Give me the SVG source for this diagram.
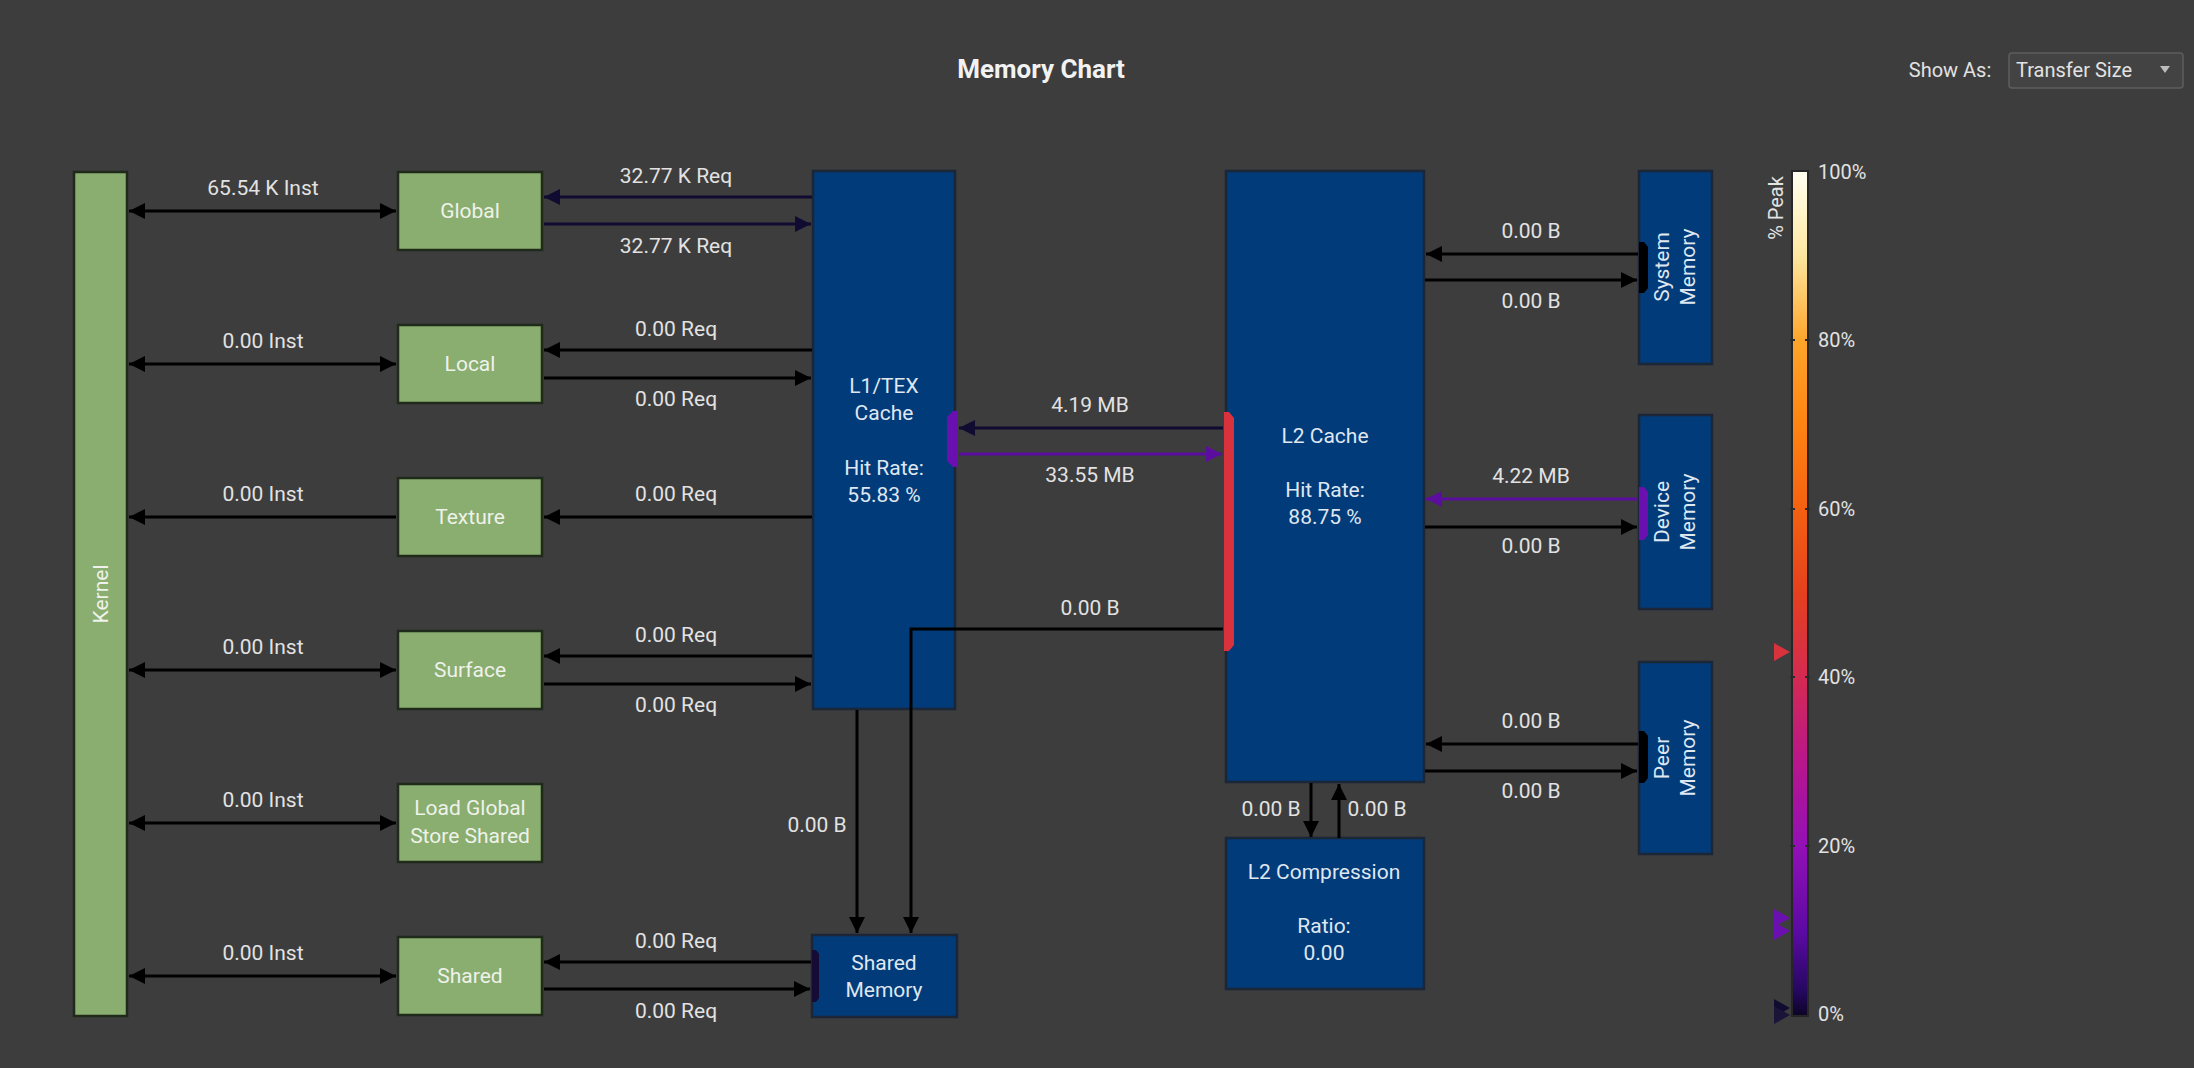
<svg xmlns="http://www.w3.org/2000/svg" width="2194" height="1068" viewBox="0 0 2194 1068">
<defs>
<style>
.t{font-family:Roboto,"Liberation Sans",sans-serif;font-size:21px;fill:#e2e2e2;text-anchor:middle}
.gbox{fill:#8aad70;stroke:#1f2a1b;stroke-width:2.5}
.gt{font-family:Roboto,"Liberation Sans",sans-serif;font-size:21px;fill:#eef2ea;text-anchor:middle}
.bbox{fill:#023b7a;stroke:#1b2636;stroke-width:2.5}
.bt{font-family:Roboto,"Liberation Sans",sans-serif;font-size:21px;fill:#dfe7f1;text-anchor:middle}
.k{stroke:#000;stroke-width:3;fill:none}
.n{stroke:#100b30;stroke-width:3;fill:none}
.p{stroke:#5b0e9e;stroke-width:3;fill:none}
</style>
<marker id="ak" viewBox="0 0 16 16" refX="16" refY="8" markerWidth="16" markerHeight="16" markerUnits="userSpaceOnUse" orient="auto-start-reverse"><path d="M0,0L16,8L0,16z" fill="#000"/></marker>
<marker id="an" viewBox="0 0 16 16" refX="16" refY="8" markerWidth="16" markerHeight="16" markerUnits="userSpaceOnUse" orient="auto-start-reverse"><path d="M0,0L16,8L0,16z" fill="#100b30"/></marker>
<marker id="ap" viewBox="0 0 16 16" refX="16" refY="8" markerWidth="16" markerHeight="16" markerUnits="userSpaceOnUse" orient="auto-start-reverse"><path d="M0,0L16,8L0,16z" fill="#5b0e9e"/></marker>
<linearGradient id="cb" x1="0" y1="0" x2="0" y2="1">
<stop offset="0" stop-color="#fffff2"/>
<stop offset="0.1" stop-color="#fde7a0"/>
<stop offset="0.2" stop-color="#ffa52a"/>
<stop offset="0.3" stop-color="#ff8412"/>
<stop offset="0.4" stop-color="#f46110"/>
<stop offset="0.5" stop-color="#e4401e"/>
<stop offset="0.6" stop-color="#d42a52"/>
<stop offset="0.7" stop-color="#b8168c"/>
<stop offset="0.8" stop-color="#9210b6"/>
<stop offset="0.9" stop-color="#5c0aa4"/>
<stop offset="0.97" stop-color="#250860"/>
<stop offset="1" stop-color="#0c0424"/>
</linearGradient>
</defs>
<rect width="2194" height="1068" fill="#3d3d3d"/>

<text x="1041" y="78" style="font-family:Roboto,'Liberation Sans',sans-serif;font-size:26px;font-weight:bold;fill:#f2f2f2;text-anchor:middle">Memory Chart</text>
<g id="show-as">
<text x="1950" y="77" style="font-family:Roboto,'Liberation Sans',sans-serif;font-size:20px;fill:#e2e2e2;text-anchor:middle">Show As:</text>
<rect x="2009" y="53" width="174" height="35" rx="3" fill="#434343" stroke="#5e5e5e" stroke-width="1.5"/>
<text x="2016" y="77" style="font-family:Roboto,'Liberation Sans',sans-serif;font-size:20px;fill:#e2e2e2">Transfer Size</text>
<path d="M2160,66L2170,66L2165,73z" fill="#bdbdbd"/>
</g>

<g id="kernel"><rect class="gbox" x="74" y="172" width="53" height="844"/><text class="gt" transform="translate(108,594) rotate(-90)">Kernel</text></g>
<g id="global"><rect class="gbox" x="398" y="172" width="144" height="78"/><text class="gt" x="470" y="218">Global</text></g>
<g id="local"><rect class="gbox" x="398" y="325" width="144" height="78"/><text class="gt" x="470" y="371">Local</text></g>
<g id="texture"><rect class="gbox" x="398" y="478" width="144" height="78"/><text class="gt" x="470" y="524">Texture</text></g>
<g id="surface"><rect class="gbox" x="398" y="631" width="144" height="78"/><text class="gt" x="470" y="677">Surface</text></g>
<g id="load-global-store-shared"><rect class="gbox" x="398" y="784" width="144" height="78"/><text class="gt" x="470" y="815">Load Global</text><text class="gt" x="470" y="843">Store Shared</text></g>
<g id="shared"><rect class="gbox" x="398" y="937" width="144" height="78"/><text class="gt" x="470" y="983">Shared</text></g>

<g id="l1-tex-cache"><rect class="bbox" x="813" y="171" width="142" height="538"/>
<text class="bt" x="884" y="393">L1/TEX</text><text class="bt" x="884" y="420">Cache</text><text class="bt" x="884" y="475">Hit Rate:</text><text class="bt" x="884" y="502">55.83 %</text>
<path d="M957,411L957,467L953,467L947,461L947,417L953,411z" fill="#6a0fb0"/></g>
<g id="shared-memory"><rect class="bbox" x="812" y="935" width="145" height="82"/>
<text class="bt" x="884" y="970">Shared</text><text class="bt" x="884" y="997">Memory</text>
<path d="M812,950L816,950L819,954L819,998L816,1002L812,1002z" fill="#160b34"/></g>
<g id="l2-cache"><rect class="bbox" x="1226" y="171" width="198" height="611"/>
<text class="bt" x="1325" y="443">L2 Cache</text><text class="bt" x="1325" y="497">Hit Rate:</text><text class="bt" x="1325" y="524">88.75 %</text>
<path d="M1224,412L1229,412L1234,418L1234,645L1229,651L1224,651z" fill="#d8323c"/></g>
<g id="l2-compression"><rect class="bbox" x="1226" y="838" width="198" height="151"/>
<text class="bt" x="1324" y="879">L2 Compression</text><text class="bt" x="1324" y="933">Ratio:</text><text class="bt" x="1324" y="960">0.00</text></g>
<g id="system-memory"><rect class="bbox" x="1639" y="171" width="73" height="193"/>
<text class="bt" transform="translate(1675,267) rotate(-90)"><tspan x="0" y="-6">System</tspan><tspan x="0" y="20">Memory</tspan></text>
<path d="M1639,242L1644,242L1648,247L1648,288L1644,293L1639,293z" fill="#000"/></g>
<g id="device-memory"><rect class="bbox" x="1639" y="415" width="73" height="194"/>
<text class="bt" transform="translate(1675,512) rotate(-90)"><tspan x="0" y="-6">Device</tspan><tspan x="0" y="20">Memory</tspan></text>
<path d="M1639,487L1644,487L1648,492L1648,535L1644,540L1639,540z" fill="#6a0fb0"/></g>
<g id="peer-memory"><rect class="bbox" x="1639" y="662" width="73" height="192"/>
<text class="bt" transform="translate(1675,758) rotate(-90)"><tspan x="0" y="-6">Peer</tspan><tspan x="0" y="20">Memory</tspan></text>
<path d="M1639,731L1644,731L1648,736L1648,778L1644,783L1639,783z" fill="#000"/></g>

<g id="connectors">
<line class="k" x1="129" y1="211" x2="396" y2="211" marker-start="url(#ak)" marker-end="url(#ak)"/>
<line class="k" x1="129" y1="364" x2="396" y2="364" marker-start="url(#ak)" marker-end="url(#ak)"/>
<line class="k" x1="396" y1="517" x2="129" y2="517" marker-end="url(#ak)"/>
<line class="k" x1="129" y1="670" x2="396" y2="670" marker-start="url(#ak)" marker-end="url(#ak)"/>
<line class="k" x1="129" y1="823" x2="396" y2="823" marker-start="url(#ak)" marker-end="url(#ak)"/>
<line class="k" x1="129" y1="976" x2="396" y2="976" marker-start="url(#ak)" marker-end="url(#ak)"/>
<line class="n" x1="812" y1="197" x2="544" y2="197" marker-end="url(#an)"/>
<line class="n" x1="544" y1="224" x2="811" y2="224" marker-end="url(#an)"/>
<line class="k" x1="812" y1="350" x2="544" y2="350" marker-end="url(#ak)"/>
<line class="k" x1="544" y1="378" x2="811" y2="378" marker-end="url(#ak)"/>
<line class="k" x1="812" y1="517" x2="544" y2="517" marker-end="url(#ak)"/>
<line class="k" x1="812" y1="656" x2="544" y2="656" marker-end="url(#ak)"/>
<line class="k" x1="544" y1="684" x2="811" y2="684" marker-end="url(#ak)"/>
<line class="k" x1="811" y1="962" x2="544" y2="962" marker-end="url(#ak)"/>
<line class="k" x1="544" y1="989" x2="810" y2="989" marker-end="url(#ak)"/>
<line class="n" x1="1223" y1="428" x2="959" y2="428" marker-end="url(#an)"/>
<line class="p" x1="959" y1="454" x2="1222" y2="454" marker-end="url(#ap)"/>
<polyline class="k" points="1223,629 911,629 911,933" marker-end="url(#ak)"/>
<line class="k" x1="857" y1="710" x2="857" y2="933" marker-end="url(#ak)"/>
<line class="k" x1="1638" y1="254" x2="1426" y2="254" marker-end="url(#ak)"/>
<line class="k" x1="1425" y1="280" x2="1637" y2="280" marker-end="url(#ak)"/>
<line class="p" x1="1638" y1="499" x2="1426" y2="499" marker-end="url(#ap)"/>
<line class="k" x1="1425" y1="527" x2="1637" y2="527" marker-end="url(#ak)"/>
<line class="k" x1="1638" y1="744" x2="1426" y2="744" marker-end="url(#ak)"/>
<line class="k" x1="1425" y1="771" x2="1637" y2="771" marker-end="url(#ak)"/>
<line class="k" x1="1311" y1="783" x2="1311" y2="837" marker-end="url(#ak)"/>
<line class="k" x1="1339" y1="838" x2="1339" y2="784" marker-end="url(#ak)"/>
</g>

<g id="labels">
<text class="t" x="263" y="195">65.54 K Inst</text>
<text class="t" x="263" y="348">0.00 Inst</text>
<text class="t" x="263" y="501">0.00 Inst</text>
<text class="t" x="263" y="654">0.00 Inst</text>
<text class="t" x="263" y="807">0.00 Inst</text>
<text class="t" x="263" y="960">0.00 Inst</text>
<text class="t" x="676" y="183">32.77 K Req</text>
<text class="t" x="676" y="253">32.77 K Req</text>
<text class="t" x="676" y="336">0.00 Req</text>
<text class="t" x="676" y="406">0.00 Req</text>
<text class="t" x="676" y="501">0.00 Req</text>
<text class="t" x="676" y="642">0.00 Req</text>
<text class="t" x="676" y="712">0.00 Req</text>
<text class="t" x="676" y="948">0.00 Req</text>
<text class="t" x="676" y="1018">0.00 Req</text>
<text class="t" x="1090" y="412">4.19 MB</text>
<text class="t" x="1090" y="482">33.55 MB</text>
<text class="t" x="1090" y="615">0.00 B</text>
<text class="t" x="817" y="832">0.00 B</text>
<text class="t" x="1531" y="238">0.00 B</text>
<text class="t" x="1531" y="308">0.00 B</text>
<text class="t" x="1531" y="483">4.22 MB</text>
<text class="t" x="1531" y="553">0.00 B</text>
<text class="t" x="1531" y="728">0.00 B</text>
<text class="t" x="1531" y="798">0.00 B</text>
<text class="t" x="1271" y="816">0.00 B</text>
<text class="t" x="1377" y="816">0.00 B</text>
</g>

<g id="colorbar">
<rect x="1792" y="171" width="16" height="845" fill="url(#cb)" stroke="#262626" stroke-width="2"/>
<g stroke="#2a2a2a" stroke-width="2"><line x1="1790" y1="340" x2="1795" y2="340"/><line x1="1805" y1="340" x2="1810" y2="340"/><line x1="1790" y1="509" x2="1795" y2="509"/><line x1="1805" y1="509" x2="1810" y2="509"/><line x1="1790" y1="677" x2="1795" y2="677"/><line x1="1805" y1="677" x2="1810" y2="677"/><line x1="1790" y1="846" x2="1795" y2="846"/><line x1="1805" y1="846" x2="1810" y2="846"/></g>
<text transform="translate(1783,208) rotate(-90)" style="font-family:Roboto,'Liberation Sans',sans-serif;font-size:20px;fill:#e2e2e2;text-anchor:middle">% Peak</text>
<g style="font-family:Roboto,'Liberation Sans',sans-serif;font-size:20px;fill:#e2e2e2">
<text x="1818" y="179">100%</text><text x="1818" y="347">80%</text><text x="1818" y="516">60%</text><text x="1818" y="684">40%</text><text x="1818" y="853">20%</text><text x="1818" y="1021">0%</text></g>
<path d="M1774,643L1790,652L1774,661z" fill="#d8323c"/>
<path d="M1774,909L1790,918L1774,927z" fill="#6a0fb0"/>
<path d="M1774,922L1790,931L1774,940z" fill="#6a0fb0"/>
<path d="M1774,999L1790,1008L1774,1017z" fill="#100b30"/>
<path d="M1774,1006L1790,1015L1774,1024z" fill="#1a1438"/>
</g>
</svg>
